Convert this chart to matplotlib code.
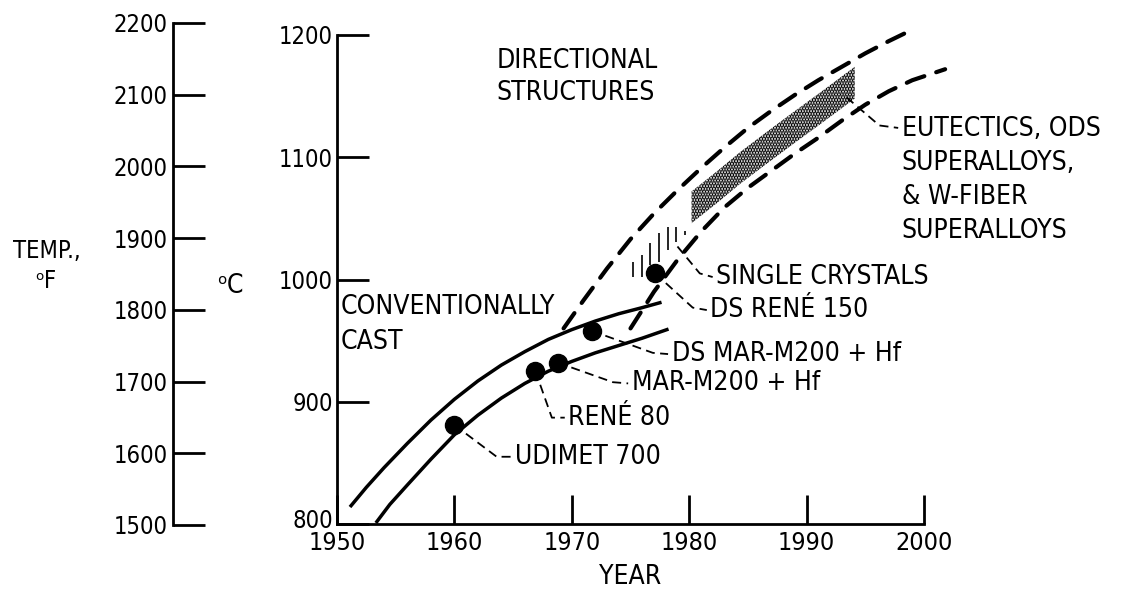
import numpy as np
import matplotlib
matplotlib.use("Agg")
import matplotlib.pyplot as plt
import matplotlib.transforms as mtransforms

plt.rcParams['font.family'] = ['DejaVu Sans']
plt.rcParams['font.stretch'] = 'condensed'
plt.rcParams['hatch.linewidth'] = 1.8

# conventionally cast band (solid curves), year vs temp (C)
cast_hi_year = [1951.2, 1952.5, 1954.0, 1956.0, 1958.0, 1960.0, 1962.0, 1964.0, 1966.0,
                1968.0, 1970.0, 1972.0, 1974.0, 1976.0, 1977.5]
cast_hi_temp = [815, 830, 846, 866, 885, 902, 917, 930, 941, 951, 959, 966, 972, 977, 981]
cast_lo_year = [1953.4, 1954.5, 1956.0, 1958.0, 1960.0, 1962.0, 1964.0, 1966.0, 1968.0,
                1970.0, 1972.0, 1974.0, 1976.0, 1978.1]
cast_lo_temp = [802, 816, 832, 853, 873, 889, 903, 915, 925, 933, 940, 946, 952, 959]

# directional structures band (dashed curves)
ds_hi_year = [1969.3, 1971.0, 1973.0, 1975.0, 1977.0, 1979.0, 1981.0, 1983.0, 1985.0,
              1987.0, 1989.0, 1991.0, 1993.0, 1995.0, 1997.0, 1998.5]
ds_hi_temp = [960, 983, 1009, 1033, 1054, 1073, 1091, 1108, 1124, 1138, 1151, 1163,
              1174, 1185, 1195, 1202]
ds_lo_year = [1975.0, 1977.0, 1979.0, 1981.0, 1983.0, 1985.0, 1987.0, 1989.0, 1991.0,
              1993.0, 1995.0, 1997.0, 1999.0, 2001.8]
ds_lo_temp = [960, 990, 1016, 1039, 1059, 1075, 1089, 1103, 1116, 1130, 1143, 1154, 1163, 1172]

# eutectics / ODS / W-fiber region (stippled)
eut_year = [1980.2, 1982.3, 1984.3, 1986.5, 1988.6, 1991.3, 1994.1]
eut_lo = [1046, 1062, 1078, 1094, 1109, 1128, 1148]
eut_hi = [1072, 1088, 1104, 1120, 1135, 1154, 1174]

# single crystals (short hatch strokes)
sx_year = [1975.2, 1976.0, 1976.7, 1977.4, 1978.2, 1978.9, 1979.6]
sx_bot = [1002, 1002, 1012, 1014, 1024, 1031, 1036]
sx_top = [1014, 1020, 1030, 1038, 1043, 1043, 1040]

# alloys
alloy_names = ["UDIMET 700", "RENÉ 80", "MAR-M200 + Hf", "DS MAR-M200 + Hf", "DS RENÉ 150"]
alloy_year = [1960.0, 1966.9, 1968.8, 1971.7, 1977.1]
alloy_temp = [881, 925, 932, 958, 1005]

year_ticks = [1950, 1960, 1970, 1980, 1990, 2000]
c_ticks = [800, 900, 1000, 1100, 1200]
f_ticks = [1500, 1600, 1700, 1800, 1900, 2000, 2100, 2200]

fs = 19      # annotation text
fs_y = 17    # temperature tick labels
W, H = 1134, 597
fig = plt.figure(figsize=(W / 100, H / 100), dpi=100, facecolor="w")

# main axes (deg C vs year)
ax = fig.add_axes([337 / W, 73 / H, 587 / W, 489 / H])
ax.set_xlim(1950, 2000)
ax.set_ylim(800, 1200)
for s in ["top", "right"]:
    ax.spines[s].set_visible(False)
for s in ["left", "bottom"]:
    ax.spines[s].set_linewidth(2)
ax.set_xticks(year_ticks)
ax.set_yticks(c_ticks)
ax.tick_params(axis="x", direction="in", length=21, width=2, labelsize=18, pad=5)
ax.tick_params(axis="y", direction="in", length=23, width=2, labelsize=fs_y, pad=3)
# lift the 800 label a little so it clears 1950
lbl = ax.get_yticklabels()[0]
lbl.set_transform(lbl.get_transform() + mtransforms.ScaledTranslation(0, 6 / 100, fig.dpi_scale_trans))

ax.plot(cast_hi_year, cast_hi_temp, "k-", lw=2.5, clip_on=False)
ax.plot(cast_lo_year, cast_lo_temp, "k-", lw=2.5, clip_on=False)
for yr, tp in [(ds_hi_year, ds_hi_temp), (ds_lo_year, ds_lo_temp)]:
    ln, = ax.plot(yr, tp, "k-", lw=3, clip_on=False, dash_capstyle="round")
    ln.set_dashes((4.5, 3.0))

ax.fill_between(eut_year, eut_lo, eut_hi, facecolor="none", edgecolor="k",
                hatch="......", linewidth=0)
ax.vlines(sx_year, sx_bot, sx_top, colors="k", lw=1.2)

ax.plot(alloy_year, alloy_temp, "ko", ms=13, zorder=5)

# leader lines: dot -> corner -> end, then label
leaders = [
    ((1960.0, 881), (1963.6, 855), (1964.9, 855)),
    ((1966.9, 925), (1968.3, 887), (1969.4, 887)),
    ((1968.8, 932), (1973.5, 916), (1974.8, 915)),
    ((1971.7, 958), (1976.9, 940), (1978.2, 939)),
    ((1977.1, 1005), (1980.3, 977), (1981.5, 975)),
]
for name, (p0, p1, p2) in zip(alloy_names, leaders):
    ln, = ax.plot([p0[0], p1[0], p2[0]], [p0[1], p1[1], p2[1]], "k-", lw=1.3)
    ln.set_dashes((5, 3))
    ax.text(p2[0] + 0.3, p2[1], name, fontsize=fs, va="center", ha="left")

ln, = ax.plot([1979.0, 1980.9, 1982.0], [1027, 1005, 1002], "k-", lw=1.3)
ln.set_dashes((5, 3))
ax.text(1982.3, 1002, "SINGLE CRYSTALS", fontsize=fs, va="center", ha="left")

ln, = ax.plot([1993.4, 1996.2, 1997.8], [1149, 1126, 1124], "k-", lw=1.3, clip_on=False)
ln.set_dashes((5, 3))
ax.text(1998.1, 1081, "EUTECTICS, ODS\nSUPERALLOYS,\n& W-FIBER\nSUPERALLOYS",
        fontsize=fs, va="center", ha="left", linespacing=1.4)

ax.text(1950.3, 963, "CONVENTIONALLY\nCAST", fontsize=fs, va="center", ha="left",
        linespacing=1.45)
ax.text(1963.6, 1166, "DIRECTIONAL\nSTRUCTURES", fontsize=fs, va="center", ha="left",
        linespacing=1.3)

# fahrenheit scale
axf = fig.add_axes([173 / W, 72 / H, 0.05, 502 / H])
axf.set_ylim(1500, 2200)
axf.set_yticks(f_ticks)
axf.set_xticks([])
for s in ["top", "right", "bottom"]:
    axf.spines[s].set_visible(False)
axf.spines["left"].set_linewidth(2)
axf.patch.set_alpha(0)
axf.tick_params(axis="y", direction="in", length=23, width=2, labelsize=fs_y, pad=4)

fig.text(47 / W, 1 - 251 / H, "TEMP.,", fontsize=fs_y, ha="center", va="center")
fig.text(46 / W, 1 - 281 / H, "ᵒF", fontsize=fs_y, ha="center", va="center")
fig.text(230 / W, 1 - 286 / H, "ᵒC", fontsize=fs, ha="center", va="center")
fig.text(630 / W, 1 - 577 / H, "YEAR", fontsize=fs, ha="center", va="center")

plt.savefig("out.png", dpi=100)
